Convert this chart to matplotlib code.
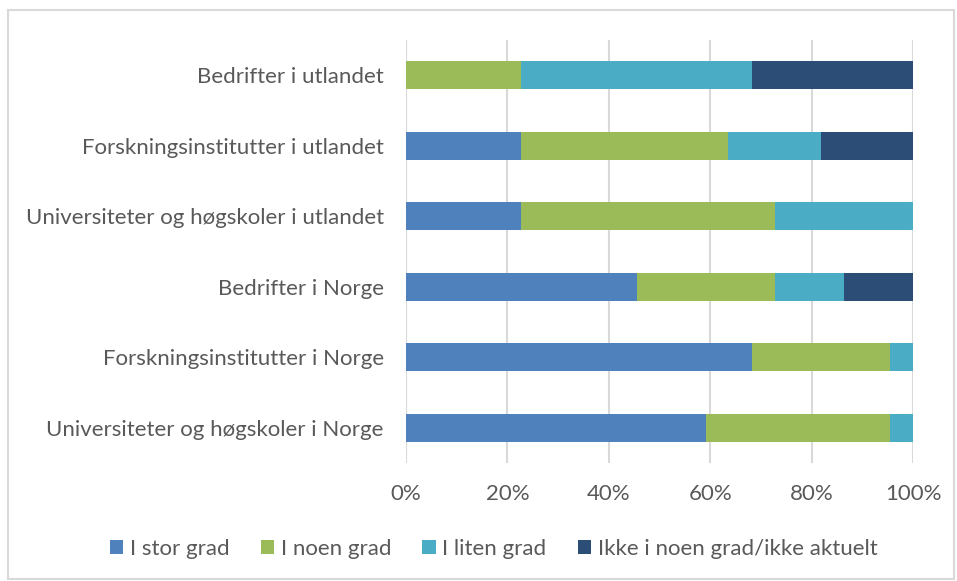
import matplotlib.pyplot as plt
from matplotlib.patches import Rectangle
from matplotlib.ticker import PercentFormatter

categories = [
    "Universiteter og høgskoler i Norge",
    "Forskningsinstitutter i Norge",
    "Bedrifter i Norge",
    "Universiteter og høgskoler i utlandet",
    "Forskningsinstitutter i utlandet",
    "Bedrifter i utlandet",
]
series_names = ["I stor grad", "I noen grad", "I liten grad", "Ikke i noen grad/ikke aktuelt"]
stor = [59.1, 68.2, 45.5, 22.7, 22.7, 0.0]
noen = [36.4, 27.3, 27.3, 50.0, 40.9, 22.7]
liten = [4.5, 4.5, 13.6, 27.3, 18.2, 45.5]
ikke = [0.0, 0.0, 13.6, 0.0, 18.2, 31.8]
colors = ["#4F81BD", "#9BBB59", "#4BACC6", "#2C4D75"]
x_ticks = [0, 20, 40, 60, 80, 100]

plt.rcParams["font.family"] = ["Lato", "DejaVu Sans"]
text_color = "#595959"

fig = plt.figure(figsize=(9.57, 5.81), dpi=100)
fig.patches.append(
    Rectangle((8 / 957, 2 / 581), 946 / 957, 569 / 581, transform=fig.transFigure,
              fill=False, edgecolor="#D9D9D9", linewidth=1.5)
)
ax = fig.add_axes([406 / 957, 1 - 463 / 581, 507 / 957, 423 / 581])

ypos = list(range(len(categories)))
left = [0.0] * len(categories)
for name, vals, col in zip(series_names, [stor, noen, liten, ikke], colors):
    ax.barh(ypos, vals, left=left, height=0.4, color=col, label=name, zorder=3)
    left = [a + b for a, b in zip(left, vals)]

ax.set_xlim(0, 100)
ax.set_ylim(-0.5, len(categories) - 0.5)
ax.set_xticks(x_ticks)
ax.xaxis.set_major_formatter(PercentFormatter(decimals=0))
ax.set_yticks(ypos)
ax.set_yticklabels(categories)
ax.grid(axis="x", color="#D9D9D9", linewidth=1.5, zorder=0)
for s in ax.spines.values():
    s.set_visible(False)
ax.tick_params(axis="both", length=0, labelsize=16, colors=text_color)
ax.tick_params(axis="x", pad=15)
ax.tick_params(axis="y", pad=16)

fig.legend(loc="center", bbox_to_anchor=(0.516, 1 - 549 / 581), ncol=4, frameon=False,
           fontsize=16, labelcolor=text_color, handlelength=0.6, handleheight=0.6,
           handletextpad=0.3, columnspacing=1.4)

fig.savefig("out.png", dpi=100)
